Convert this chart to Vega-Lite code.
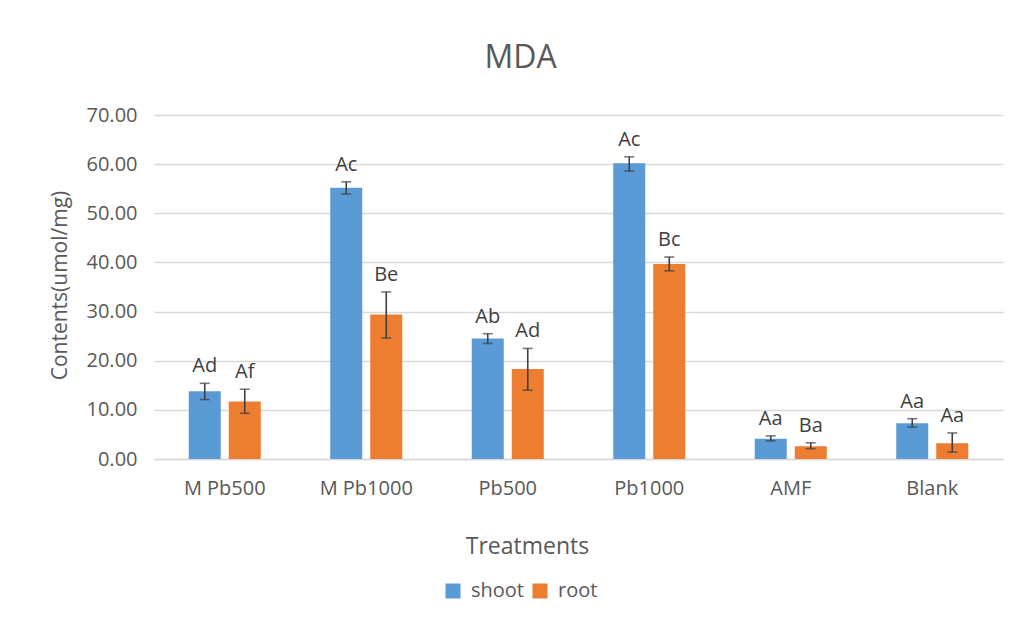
{
  "$schema": "https://vega.github.io/schema/vega-lite/v6.json",
  "width": 849,
  "height": 344,
  "autosize": {"type": "none"},
  "padding": {"left": 154, "top": 115, "right": 16, "bottom": 177},
  "background": "white",
  "title": {
    "text": "MDA",
    "fontSize": 32,
    "font": "Open Sans",
    "fontWeight": "normal",
    "color": "#595959",
    "anchor": "middle",
    "frame": "group",
    "dx": -58,
    "offset": 30
  },
  "config": {
    "font": "Open Sans",
    "view": {"stroke": null},
    "axis": {"labelColor": "#595959", "titleColor": "#595959", "labelFont": "Open Sans", "titleFont": "Open Sans", "titleFontWeight": "normal"}
  },
  "data": {
    "values": [
      {"treatment": "M Pb500", "part": "shoot", "value": 13.8, "lo": 12.1, "hi": 15.4, "label": "Ad"},
      {"treatment": "M Pb500", "part": "root", "value": 11.7, "lo": 9.3, "hi": 14.2, "label": "Af"},
      {"treatment": "M Pb1000", "part": "shoot", "value": 55.2, "lo": 53.9, "hi": 56.4, "label": "Ac"},
      {"treatment": "M Pb1000", "part": "root", "value": 29.4, "lo": 24.6, "hi": 34.0, "label": "Be"},
      {"treatment": "Pb500", "part": "shoot", "value": 24.5, "lo": 23.5, "hi": 25.5, "label": "Ab"},
      {"treatment": "Pb500", "part": "root", "value": 18.3, "lo": 14.0, "hi": 22.5, "label": "Ad"},
      {"treatment": "Pb1000", "part": "shoot", "value": 60.2, "lo": 58.6, "hi": 61.5, "label": "Ac"},
      {"treatment": "Pb1000", "part": "root", "value": 39.7, "lo": 38.3, "hi": 41.1, "label": "Bc"},
      {"treatment": "AMF", "part": "shoot", "value": 4.1, "lo": 3.7, "hi": 4.7, "label": "Aa"},
      {"treatment": "AMF", "part": "root", "value": 2.6, "lo": 2.1, "hi": 3.3, "label": "Ba"},
      {"treatment": "Blank", "part": "shoot", "value": 7.3, "lo": 6.5, "hi": 8.2, "label": "Aa"},
      {"treatment": "Blank", "part": "root", "value": 3.2, "lo": 1.4, "hi": 5.3, "label": "Aa"}
    ]
  },
  "encoding": {
    "x": {
      "field": "treatment",
      "type": "nominal",
      "sort": null,
      "scale": {"paddingInner": 0.491, "paddingOuter": 0.2455},
      "axis": {
        "title": "Treatments",
        "labelAngle": 0,
        "labelFontSize": 20,
        "labelPadding": 19,
        "ticks": false,
        "domainColor": "#d9d9d9",
        "domainWidth": 1.5,
        "titleFontSize": 23,
        "titleX": 373,
        "titleY": 94,
        "titleBaseline": "alphabetic",
        "titleAlign": "center"
      }
    },
    "xOffset": {
      "field": "part",
      "type": "nominal",
      "sort": ["shoot", "root"],
      "scale": {"paddingInner": 0.2, "paddingOuter": 0}
    }
  },
  "layer": [
    {
      "mark": {"type": "bar"},
      "encoding": {
        "y": {
          "field": "value",
          "type": "quantitative",
          "scale": {"domain": [0, 70]},
          "axis": {
            "title": "Contents(umol/mg)",
            "format": ".2f",
            "values": [0, 10, 20, 30, 40, 50, 60, 70],
            "labelFontSize": 20,
            "labelPadding": 17,
            "ticks": false,
            "domain": false,
            "gridColor": "#d9d9d9",
            "gridWidth": 1.5,
            "titleFontSize": 21,
            "titleX": -94,
            "titleY": 170,
            "titleAngle": -90,
            "titleBaseline": "middle",
            "titleAlign": "center"
          }
        },
        "color": {
          "field": "part",
          "type": "nominal",
          "sort": ["shoot", "root"],
          "scale": {"domain": ["shoot", "root"], "range": ["#5B9BD5", "#ED7D31"]},
          "legend": {
            "title": null,
            "orient": "none",
            "direction": "horizontal",
            "legendX": 289,
            "legendY": 466,
            "symbolType": "square",
            "symbolSize": 225,
            "symbolStrokeWidth": 0,
            "labelFontSize": 20,
            "labelColor": "#595959",
            "labelFont": "Open Sans",
            "columnPadding": 6,
            "labelOffset": 8
          }
        }
      }
    },
    {
      "mark": {"type": "rule", "color": "#404040", "strokeWidth": 1.6},
      "encoding": {
        "y": {"field": "lo", "type": "quantitative"},
        "y2": {"field": "hi"}
      }
    },
    {
      "mark": {"type": "tick", "orient": "horizontal", "color": "#404040", "size": 10, "thickness": 1.6},
      "encoding": {"y": {"field": "lo", "type": "quantitative"}}
    },
    {
      "mark": {"type": "tick", "orient": "horizontal", "color": "#404040", "size": 10, "thickness": 1.6},
      "encoding": {"y": {"field": "hi", "type": "quantitative"}}
    },
    {
      "mark": {"type": "text", "baseline": "alphabetic", "dy": -11, "fontSize": 20, "color": "#404040", "font": "Open Sans"},
      "encoding": {
        "y": {"field": "hi", "type": "quantitative"},
        "text": {"field": "label"}
      }
    }
  ]
}
